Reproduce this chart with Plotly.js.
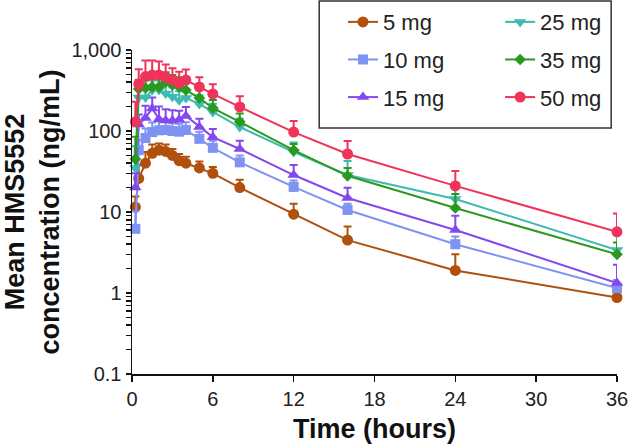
<!DOCTYPE html>
<html>
<head>
<meta charset="utf-8">
<script src="https://cdn.plot.ly/plotly-3.0.1.min.js"></script>
<style>
  html, body { margin: 0; padding: 0; background: #fff; }
  #chart { width: 628px; height: 445px; }
</style>
</head>
<body>
<div id="chart"></div>
<script>
// sampling times (hours)
var hours = [0.25, 0.5, 1, 1.5, 2, 2.5, 3, 3.5, 4, 5, 6, 8, 12, 16, 24, 36];

// mean concentration (ng/mL) per dose
var mean5  = [11.5, 26, 40, 53, 58, 56, 50, 43, 40, 35, 30, 20, 9.4, 4.5, 1.9, 0.88];
var mean10 = [6.2, 58, 82, 97, 102, 103, 100, 98, 103, 80, 62, 41, 20.4, 10.6, 4.0, 1.15];
var mean15 = [20, 120, 145, 190, 140, 135, 135, 138, 153, 112, 84, 60, 28.6, 14.9, 6.0, 1.33];
var mean25 = [35, 260, 260, 320, 320, 290, 265, 240, 255, 216, 172, 112, 55, 28.6, 14.5, 3.4];
var mean35 = [45, 330, 340, 350, 350, 400, 370, 350, 320, 255, 192, 130, 58, 28, 11.2, 3.0];
var mean50 = [130, 380, 470, 490, 490, 460, 426, 390, 426, 350, 287, 198, 97, 52, 21, 5.7];

// upper SD bars
var sd5  = [4, 12, 15, 15, 12, 12, 10, 9, 8, 7, 6, 5, 3.2, 2.1, 1.1, 0.28];
var sd10 = [4, 20, 25, 30, 30, 30, 25, 25, 25, 18, 14, 9, 4, 2, 1, 0.3];
var sd15 = [10, 40, 60, 70, 60, 50, 45, 40, 45, 30, 22, 16, 9.5, 5, 3, 0.9];
var sd25 = [30, 80, 100, 100, 100, 90, 80, 70, 70, 60, 45, 30, 17, 14, 8.5, 1.8];
var sd35 = [40, 100, 150, 150, 130, 130, 120, 110, 100, 70, 50, 35, 11, 7, 5.5, 1.2];
var sd50 = [100, 200, 270, 250, 230, 200, 170, 150, 150, 110, 90, 70, 36, 23, 11, 3.9];

var doseNames = ['5 mg', '10 mg', '15 mg', '25 mg', '35 mg', '50 mg'];
var doseColors = ['#b0500c', '#7f93f2', '#8448f0', '#3dbbb0', '#2a9a1e', '#f0335a'];
var doseSymbols = ['circle', 'square', 'triangle-up', 'triangle-down', 'diamond', 'circle'];
var doseSizes = [11, 10, 11, 11, 9, 11];
var means = [mean5, mean10, mean15, mean25, mean35, mean50];
var sds = [sd5, sd10, sd15, sd25, sd35, sd50];

// y ticks: labelled decades plus unlabelled 2..9 steps
var decadeVals = [0.1, 1, 10, 100, 1000];
var decadeText = ['0.1', '1', '10', '100', '1,000'];
var yTickVals = [];
var yTickText = [];
decadeVals.forEach(function (d, j) {
  yTickVals.push(d);
  yTickText.push(decadeText[j]);
  if (d < 1000) {
    for (var k = 2; k <= 9; k++) { yTickVals.push(k * d); yTickText.push(''); }
  }
});

var zeros = hours.map(function () { return 0; });

var data = [];
for (var i = 0; i < doseNames.length; i++) {
  data.push({
    x: hours,
    y: means[i],
    type: 'scatter',
    mode: 'lines+markers',
    name: doseNames[i],
    legend: i < 3 ? 'legend' : 'legend2',
    legendgroup: 'g' + i,
    line: { color: doseColors[i], width: 2 },
    marker: { color: doseColors[i], symbol: doseSymbols[i], size: doseSizes[i] },
    error_y: {
      type: 'data', symmetric: false,
      array: sds[i], arrayminus: zeros,
      color: doseColors[i], thickness: 2, width: 4
    },
    cliponaxis: false
  });
}

var tickFont = { family: 'Liberation Sans, Arial, sans-serif', size: 20, color: '#222' };
var titleFont = { family: 'Liberation Sans, Arial, sans-serif', size: 27, color: '#111', weight: 'bold' };
var legFont = { family: 'Liberation Sans, Arial, sans-serif', size: 22, color: '#222' };

var layout = {
  width: 628,
  height: 445,
  margin: { l: 132, r: 11, t: 50, b: 71, autoexpand: false },
  paper_bgcolor: '#fff',
  plot_bgcolor: '#fff',
  showlegend: true,
  xaxis: {
    range: [0, 36],
    tickvals: [0, 6, 12, 18, 24, 30, 36],
    ticks: 'outside', ticklen: 6, tickwidth: 1.5, tickcolor: '#111',
    ticklabeloverflow: 'allow',
    showline: true, linecolor: '#111', linewidth: 1.5,
    showgrid: false, zeroline: false, automargin: false,
    tickfont: tickFont,
    title: { text: 'Time (hours)', font: titleFont, standoff: 10 }
  },
  yaxis: {
    type: 'log',
    range: [-1, 3],
    tickvals: yTickVals,
    ticktext: yTickText,
    ticks: 'outside', ticklen: 5, tickwidth: 1.5, tickcolor: '#111',
    showline: true, linecolor: '#111', linewidth: 1.5,
    showgrid: false, zeroline: false, automargin: false,
    tickfont: tickFont,
    title: { text: 'Mean HMS5552<br>concentration (ng/mL)', font: titleFont, standoff: 9 }
  },
  legend: {
    x: 0.435, xanchor: 'left',
    y: 1.151, yanchor: 'top',
    font: legFont, bgcolor: 'rgba(0,0,0,0)', borderwidth: 0,
    tracegroupgap: 6
  },
  legend2: {
    x: 0.759, xanchor: 'left',
    y: 1.151, yanchor: 'top',
    font: legFont, bgcolor: 'rgba(0,0,0,0)', borderwidth: 0,
    tracegroupgap: 6
  },
  shapes: [{
    type: 'rect', xref: 'paper', yref: 'paper',
    x0: 0.386, x1: 0.988, y0: 0.759, y1: 1.151,
    line: { color: '#333', width: 1.5 }, fillcolor: 'rgba(255,255,255,1)',
    layer: 'below'
  }]
};

Plotly.newPlot('chart', data, layout, { displayModeBar: false, staticPlot: true });
</script>
</body>
</html>
